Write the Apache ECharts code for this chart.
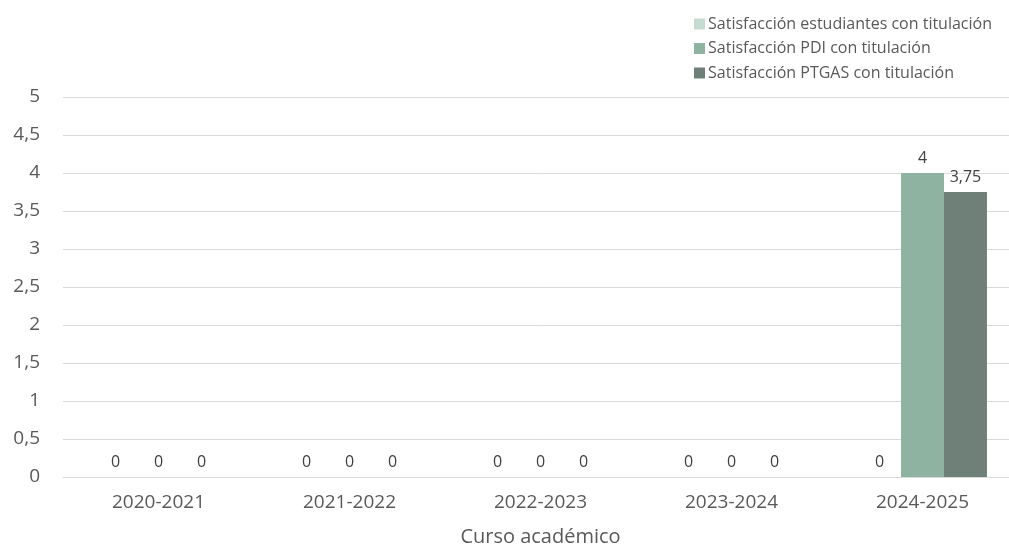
<!DOCTYPE html>
<html><head><meta charset="utf-8">
<script src="https://cdn.jsdelivr.net/npm/echarts@6/dist/echarts.min.js"></script>
<style>html,body{margin:0;padding:0;background:#fff;overflow:hidden;width:1009px;height:552px}#c{width:1018px;height:552px}</style>
</head><body><div id="c"></div>
<script>
const categories = ['2020-2021','2021-2022','2022-2023','2023-2024','2024-2025'];
const seriesNames = ['Satisfacción estudiantes con titulación','Satisfacción PDI con titulación','Satisfacción PTGAS con titulación'];
const estudiantes = [0,0,0,0,0];
const pdi = [0,0,0,0,4];
const ptgas = [0,0,0,0,3.75];
const yTicks = [0,0.5,1,1.5,2,2.5,3,3.5,4,4.5,5];
const colors = ['#c5dad1','#8fb3a1','#6e8077'];
const font = '"Open Sans", "Noto Sans", sans-serif';
const fmt = v => String(v).replace('.', ',');
const chart = echarts.init(document.getElementById('c'));
const mk = (name, data, color) => ({
  name, type: 'bar', data, barGap: '0%', barCategoryGap: '32.5%',
  itemStyle: {color},
  label: {show: true, position: 'top', distance: 7, color: '#404040', fontFamily: font, fontSize: 16,
    formatter: p => fmt(p.value)}
});
chart.setOption({
  animation: false,
  textStyle: {fontFamily: font},
  legend: {
    orient: 'vertical', right: 21, top: 11, itemWidth: 11, itemHeight: 11, itemGap: 8.5,
    icon: 'rect', textStyle: {color: '#595959', fontSize: 16, fontFamily: font, padding: [0,0,0,-2]},
    data: seriesNames
  },
  grid: {left: 63, right: 0, top: 97, bottom: 73, containLabel: false},
  xAxis: {
    type: 'category', data: categories,
    name: 'Curso académico', nameLocation: 'middle', nameGap: 50,
    nameTextStyle: {color: '#595959', fontSize: 20, fontFamily: font},
    axisLine: {lineStyle: {color: '#d9d9d9', width: 1}},
    axisTick: {show: false},
    axisLabel: {color: '#595959', fontSize: 19, fontFamily: font, margin: 16}
  },
  yAxis: {
    type: 'value', min: yTicks[0], max: yTicks[yTicks.length-1], interval: 0.5,
    axisLine: {show: false}, axisTick: {show: false},
    axisLabel: {color: '#595959', fontSize: 19, fontFamily: font, margin: 23, formatter: v => fmt(v)},
    splitLine: {lineStyle: {color: '#d9d9d9', width: 1}}
  },
  series: [
    mk(seriesNames[0], estudiantes, colors[0]),
    mk(seriesNames[1], pdi, colors[1]),
    mk(seriesNames[2], ptgas, colors[2])
  ]
});
</script></body></html>
